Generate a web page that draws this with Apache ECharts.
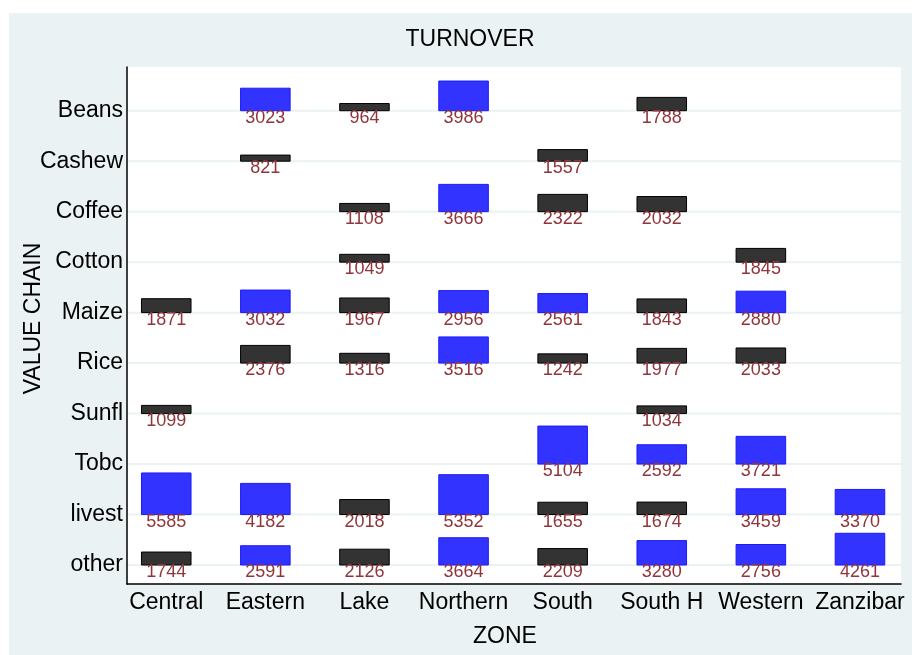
<!DOCTYPE html>
<html>
<head>
<meta charset="utf-8">
<script src="https://cdn.jsdelivr.net/npm/echarts@6/dist/echarts.min.js"></script>
<style>
html,body{margin:0;padding:0;background:#fff;}
#chart{width:912px;height:655px;}
</style>
</head>
<body>
<div id="chart"></div>
<script>
// ---- data ----
const zones = ["Central","Eastern","Lake","Northern","South","South H","Western","Zanzibar"];
// value chains from bottom (1) to top (10)
const chains = ["other","livest","Tobc","Sunfl","Rice","Maize","Cotton","Coffee","Cashew","Beans"];
// turnover per value chain, in the order of `zones` (null = no bar)
const Beans  = [null, 3023, 964, 3986, null, 1788, null, null];
const Cashew = [null, 821, null, null, 1557, null, null, null];
const Coffee = [null, null, 1108, 3666, 2322, 2032, null, null];
const Cotton = [null, null, 1049, null, null, null, 1845, null];
const Maize  = [1871, 3032, 1967, 2956, 2561, 1843, 2880, null];
const Rice   = [null, 2376, 1316, 3516, 1242, 1977, 2033, null];
const Sunfl  = [1099, null, null, null, null, 1034, null, null];
const Tobc   = [null, null, null, null, 5104, 2592, 3721, null];
const livest = [5585, 4182, 2018, 5352, 1655, 1674, 3459, 3370];
const other  = [1744, 2591, 2126, 3664, 2209, 3280, 2756, 4261];

const byChain = {Beans, Cashew, Coffee, Cotton, Maize, Rice, Sunfl, Tobc, livest, other};

// build data [xIndex, yIndex, value]
const points = [];
chains.forEach((c, yi) => {
  byChain[c].forEach((v, xi) => {
    if (v != null) points.push([xi + 1, yi + 1, v]);
  });
});
const rowIdx = chains.map((c, i) => [0, i + 1]);

const SCALE = 6780;       // turnover per category unit of bar height
const HALFW = 0.25;       // half bar width in x units
const THRESH = 2500;      // colour split

const chart = echarts.init(document.getElementById('chart'), null, {renderer: 'canvas'});
const font = '"Liberation Sans", Arial, Helvetica, sans-serif';

const option = {
  backgroundColor: '#ffffff',
  animation: false,
  graphic: [{
    type: 'rect', z: -10, silent: true,
    shape: {x: 9, y: 13, width: 903, height: 642},
    style: {fill: '#eaf2f3'}
  }],
  title: {
    text: 'TURNOVER', left: 465, top: 23, textAlign: 'center',
    textStyle: {fontFamily: font, fontSize: 23, fontWeight: 'normal', color: '#000'}
  },
  grid: {
    left: 127, right: 11, top: 67, bottom: 71,
    outerBoundsMode: 'none', containLabel: false,
    show: true, backgroundColor: '#ffffff', borderWidth: 0
  },
  xAxis: {
    type: 'value', min: 0.604, max: 8.414,
    name: 'ZONE', nameLocation: 'middle', nameGap: 41, nameMoveOverlap: false,
    nameTextStyle: {fontFamily: font, fontSize: 23, color: '#000', padding: [0, 18, 0, 0]},
    axisLine: {show: true, onZero: false, lineStyle: {color: '#000', width: 1.5}},
    axisTick: {show: false},
    splitLine: {show: false},
    axisLabel: {
      customValues: zones.map((z, i) => i + 1),
      formatter: v => zones[Math.round(v) - 1] || '',
      fontFamily: font, fontSize: 23, color: '#000', margin: 7
    }
  },
  yAxis: {
    type: 'value', min: 0.624, max: 10.866,
    name: 'VALUE CHAIN', nameLocation: 'middle', nameGap: 82, nameMoveOverlap: false,
    nameTextStyle: {fontFamily: font, fontSize: 23, color: '#000', padding: [0, 0, 0, 14]},
    axisLine: {show: true, onZero: false, lineStyle: {color: '#000', width: 1.5}},
    axisTick: {show: false},
    splitLine: {show: false},
    axisLabel: {
      customValues: chains.map((c, i) => i + 1),
      formatter: v => chains[Math.round(v) - 1] || '',
      fontFamily: font, fontSize: 23, color: '#000', margin: 4
    }
  },
  series: [
    {
      type: 'custom', name: 'grid', silent: true, z: 1,
      data: rowIdx,
      renderItem: function (params, api) {
        const cs = params.coordSys;
        const y = api.coord([1, api.value(1)])[1];
        return {
          type: 'line',
          shape: {x1: cs.x + 1, y1: y, x2: cs.x + cs.width, y2: y},
          style: {stroke: '#eaf2f3', lineWidth: 2}
        };
      }
    },
    {
      type: 'custom', name: 'turnover', z: 5,
      data: points,
      encode: {x: 0, y: 1},
      renderItem: function (params, api) {
        const x = api.value(0), y = api.value(1), v = api.value(2);
        const p0 = api.coord([x - HALFW, y]);
        const p1 = api.coord([x + HALFW, y + v / SCALE]);
        const big = v > THRESH;
        const pc = api.coord([x, y]);
        return {
          type: 'group',
          children: [
            {
              type: 'rect',
              shape: {x: p0[0], y: p1[1], width: p1[0] - p0[0], height: p0[1] - p1[1]},
              style: {
                fill: big ? '#3333ff' : '#333333',
                stroke: big ? '#1a1aff' : '#000000',
                lineWidth: 1
              }
            },
            {
              type: 'text',
              style: {
                text: String(v), x: pc[0], y: pc[1] + 7,
                align: 'center', verticalAlign: 'middle',
                fill: '#90353b', font: '18px ' + font
              },
              z2: 10
            }
          ]
        };
      }
    }
  ]
};
chart.setOption(option);
</script>
</body>
</html>
